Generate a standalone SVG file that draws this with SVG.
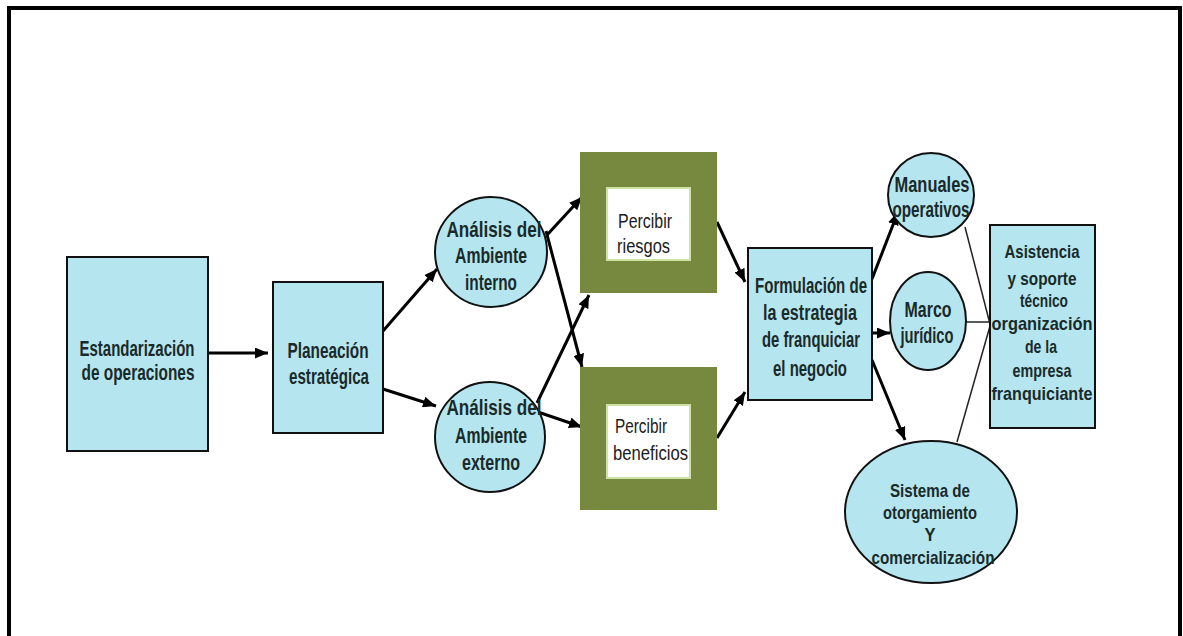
<svg xmlns="http://www.w3.org/2000/svg" width="1183" height="636" viewBox="0 0 1183 636">
<style>
.node{fill:#b5e6ef;stroke:#111;stroke-width:2}
.frame{fill:#77893f}
.inner{fill:#fff;stroke:#cfe2a6;stroke-width:2}
.t{font-family:"Liberation Sans",Arial,sans-serif;font-size:22px;font-weight:bold;fill:#1a2a2a;text-anchor:middle}
.tp{font-family:"Liberation Sans",Arial,sans-serif;font-size:21px;fill:#1a2020;text-anchor:start}
.ts{font-size:19px}
.arr{stroke:#000;stroke-width:3;fill:none;marker-end:url(#ah)}
.thin{stroke:#222;stroke-width:1.5;fill:none}
</style>
<defs>
<marker id="ah" markerUnits="userSpaceOnUse" markerWidth="13" markerHeight="11" refX="13" refY="5.5" orient="auto">
<path d="M0,0 L13,5.5 L0,11 z" fill="#000"/>
</marker>
</defs>
<rect width="1183" height="636" fill="#fff"/>
<path d="M9,636 V8 H1180 V636" fill="none" stroke="#000" stroke-width="4"/>

<g id="connectors">
<line class="arr" x1="208" y1="353" x2="268" y2="353"/>
<line class="arr" x1="383" y1="331" x2="437" y2="269"/>
<line class="arr" x1="383" y1="389" x2="436" y2="406"/>
<line class="arr" x1="547" y1="235" x2="582" y2="197"/>
<line class="arr" x1="546" y1="231" x2="582" y2="367"/>
<line class="arr" x1="537" y1="403" x2="589" y2="295"/>
<line class="arr" x1="535" y1="411" x2="582" y2="427"/>
<line class="arr" x1="717" y1="222" x2="745" y2="282"/>
<line class="arr" x1="717" y1="438" x2="745" y2="392"/>
<line class="arr" x1="872" y1="279" x2="898" y2="212"/>
<line class="arr" x1="872" y1="333" x2="890" y2="333"/>
<line class="arr" x1="872" y1="360" x2="905" y2="440"/>
<line class="thin" x1="965" y1="227" x2="990" y2="324"/>
<line class="thin" x1="965" y1="322" x2="990" y2="322"/>
<line class="thin" x1="957" y1="442" x2="990" y2="326"/>
</g>

<g id="estandarizacion">
<rect class="node" x="67" y="257" width="141" height="194"/>
<text class="t" x="137" y="356" textLength="115" lengthAdjust="spacingAndGlyphs">Estandarización</text>
<text class="t" x="138" y="380" textLength="113" lengthAdjust="spacingAndGlyphs">de operaciones</text>
</g>

<g id="planeacion">
<rect class="node" x="273" y="282" width="110" height="151"/>
<text class="t" x="328" y="358" textLength="81" lengthAdjust="spacingAndGlyphs">Planeación</text>
<text class="t" x="329" y="384" textLength="80" lengthAdjust="spacingAndGlyphs">estratégica</text>
</g>

<g id="ambiente-interno">
<ellipse class="node" cx="491" cy="252" rx="56" ry="55"/>
<text class="t" x="494" y="237" textLength="95" lengthAdjust="spacingAndGlyphs">Análisis del</text>
<text class="t" x="491" y="263" textLength="72" lengthAdjust="spacingAndGlyphs">Ambiente</text>
<text class="t" x="491" y="290" textLength="52" lengthAdjust="spacingAndGlyphs">interno</text>
</g>

<g id="ambiente-externo">
<ellipse class="node" cx="490" cy="437" rx="55" ry="55"/>
<text class="t" x="494" y="415" textLength="95" lengthAdjust="spacingAndGlyphs">Análisis del</text>
<text class="t" x="491" y="443" textLength="72" lengthAdjust="spacingAndGlyphs">Ambiente</text>
<text class="t" x="491" y="470" textLength="58" lengthAdjust="spacingAndGlyphs">externo</text>
</g>

<g id="percibir-riesgos">
<rect class="frame" x="580" y="152" width="137" height="141"/>
<rect class="inner" x="607" y="188" width="83" height="72"/>
<text class="tp" x="618" y="228" textLength="54" lengthAdjust="spacingAndGlyphs">Percibir</text>
<text class="tp" x="617" y="253" textLength="53" lengthAdjust="spacingAndGlyphs">riesgos</text>
</g>

<g id="percibir-beneficios">
<rect class="frame" x="580" y="367" width="137" height="143"/>
<rect class="inner" x="607" y="405" width="83" height="73"/>
<text class="tp" x="615" y="433" textLength="52" lengthAdjust="spacingAndGlyphs">Percibir</text>
<text class="tp" x="613" y="460" textLength="75" lengthAdjust="spacingAndGlyphs">beneficios</text>
</g>

<g id="formulacion">
<rect class="node" x="748" y="248" width="124" height="152"/>
<text class="t" x="811" y="293" textLength="112" lengthAdjust="spacingAndGlyphs">Formulación de</text>
<text class="t" x="810" y="320" textLength="94" lengthAdjust="spacingAndGlyphs">la estrategia</text>
<text class="t" x="811" y="347" textLength="98" lengthAdjust="spacingAndGlyphs">de franquiciar</text>
<text class="t" x="810" y="376" textLength="74" lengthAdjust="spacingAndGlyphs">el negocio</text>
</g>

<g id="manuales">
<ellipse class="node" cx="931" cy="195" rx="43" ry="42"/>
<text class="t" x="932" y="192" textLength="75" lengthAdjust="spacingAndGlyphs">Manuales</text>
<text class="t" x="931" y="217" textLength="77" lengthAdjust="spacingAndGlyphs">operativos</text>
</g>

<g id="marco">
<ellipse class="node" cx="928" cy="321" rx="38" ry="49"/>
<text class="t" x="928" y="317" textLength="47" lengthAdjust="spacingAndGlyphs">Marco</text>
<text class="t" x="927" y="343" textLength="53" lengthAdjust="spacingAndGlyphs">jurídico</text>
</g>

<g id="sistema">
<ellipse class="node" cx="931" cy="512" rx="86" ry="71"/>
<text class="t ts" x="930" y="497" textLength="80" lengthAdjust="spacingAndGlyphs">Sistema de</text>
<text class="t ts" x="930" y="519" textLength="94" lengthAdjust="spacingAndGlyphs">otorgamiento</text>
<text class="t ts" x="930" y="541" textLength="11" lengthAdjust="spacingAndGlyphs">Y</text>
<text class="t ts" x="933" y="564" textLength="123" lengthAdjust="spacingAndGlyphs">comercialización</text>
</g>

<g id="asistencia">
<rect class="node" x="990" y="225" width="105" height="203"/>
<text class="t ts" x="1042" y="258" textLength="75" lengthAdjust="spacingAndGlyphs">Asistencia</text>
<text class="t ts" x="1042" y="285" textLength="69" lengthAdjust="spacingAndGlyphs">y soporte</text>
<text class="t ts" x="1044" y="307" textLength="48" lengthAdjust="spacingAndGlyphs">técnico</text>
<text class="t ts" x="1042" y="330" textLength="101" lengthAdjust="spacingAndGlyphs">organización</text>
<text class="t ts" x="1041" y="353" textLength="32" lengthAdjust="spacingAndGlyphs">de la</text>
<text class="t ts" x="1042" y="377" textLength="59" lengthAdjust="spacingAndGlyphs">empresa</text>
<text class="t ts" x="1042" y="400" textLength="101" lengthAdjust="spacingAndGlyphs">franquiciante</text>
</g>
</svg>
